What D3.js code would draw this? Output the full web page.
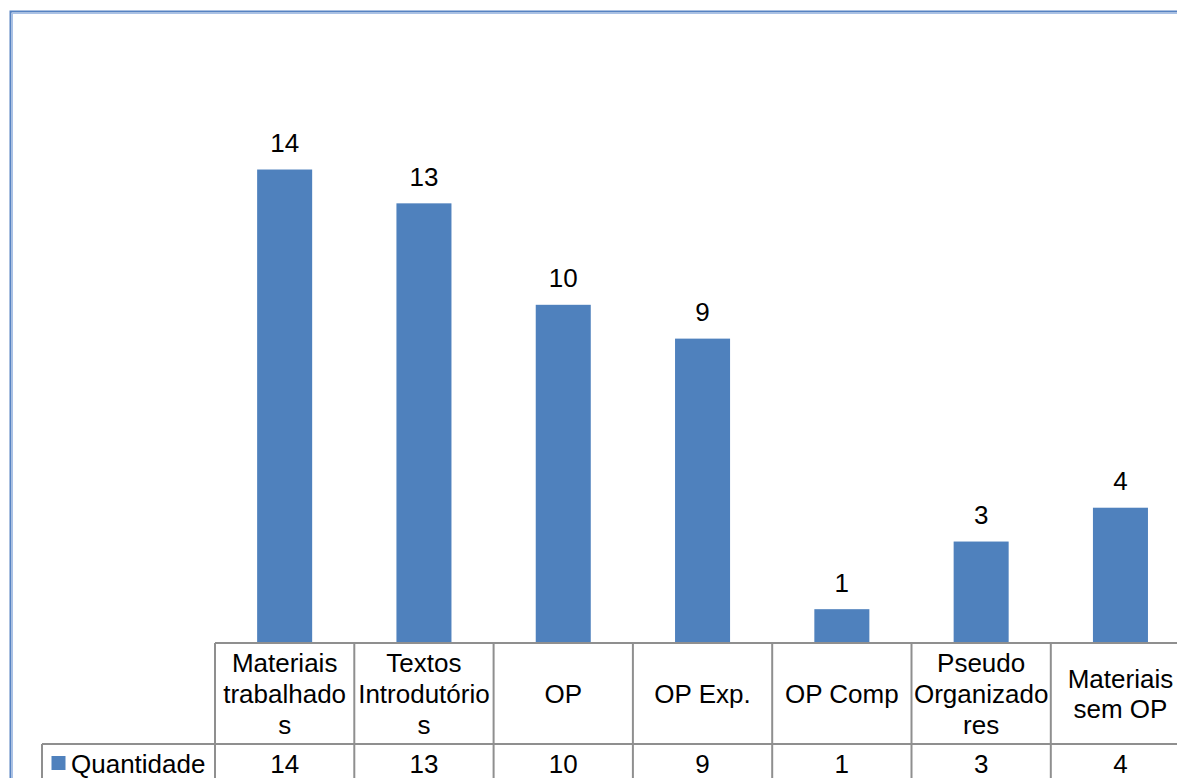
<!DOCTYPE html>
<html>
<head>
<meta charset="utf-8">
<script src="https://cdn.jsdelivr.net/npm/d3@7"></script>
<style>
  html, body { margin: 0; padding: 0; background: #fff; overflow: hidden; }
  svg { display: block; font-family: "Liberation Sans", Arial, sans-serif; }
</style>
</head>
<body>
<svg id="chart" width="1177" height="778"></svg>
<script>
// ---- data ----
const categories = ["Materiais trabalhados", "Textos Introdutórios", "OP", "OP Exp.", "OP Comp", "Pseudo Organizadores", "Materiais sem OP"];
const categoryLines = [
  ["Materiais", "trabalhado", "s"],
  ["Textos", "Introdutório", "s"],
  ["OP"],
  ["OP Exp."],
  ["OP Comp"],
  ["Pseudo", "Organizado", "res"],
  ["Materiais", "sem OP"]
];
const seriesName = "Quantidade";
const values = [14, 13, 10, 9, 1, 3, 4];
const yDomain = [0, 16];

// ---- layout ----
const svg = d3.select("#chart");
const barColor = "#4f81bd";
const gridColor = "#8f8f8f";
const tableLeft = 215, colStep = 139.3;
const baseY = 643, row2Y = 744, row2Bottom = 782, legendLeft = 42;
const fontSize = 26;

const x = d3.scaleBand().domain(categories)
  .range([tableLeft, tableLeft + colStep * categories.length]).padding(0);
const y = d3.scaleLinear().domain(yDomain).range([baseY, baseY - 16 * 33.82]);
const barW = x.bandwidth() * 0.395;

// outer frame
svg.append("rect").attr("x", 10.5).attr("y", 11.5).attr("width", 1300).attr("height", 900)
  .attr("fill", "none").attr("stroke", "#5682c2").attr("stroke-width", 2);
svg.append("rect").attr("x", 12.5).attr("y", 13.5).attr("width", 1300).attr("height", 900)
  .attr("fill", "none").attr("stroke", "#a9c1e6").attr("stroke-width", 1);

// bars
svg.append("g").selectAll("rect").data(values).join("rect")
  .attr("x", (d, i) => x(categories[i]) + (x.bandwidth() - barW) / 2)
  .attr("y", d => y(d))
  .attr("width", barW)
  .attr("height", d => y(0) - y(d))
  .attr("fill", barColor);

// value labels
svg.append("g").selectAll("text").data(values).join("text")
  .attr("x", (d, i) => x(categories[i]) + x.bandwidth() / 2)
  .attr("y", d => y(d) - 17.6)
  .attr("text-anchor", "middle")
  .attr("font-size", fontSize)
  .attr("fill", "#000")
  .text(d => d);

// data table lines
const tbl = svg.append("g").attr("stroke", gridColor).attr("stroke-width", 2).attr("fill", "none");
const tableRight = x.range()[1];
tbl.append("line").attr("x1", tableLeft).attr("x2", tableRight).attr("y1", baseY).attr("y2", baseY);
tbl.append("line").attr("x1", legendLeft).attr("x2", tableRight).attr("y1", row2Y).attr("y2", row2Y);
tbl.append("line").attr("x1", legendLeft).attr("x2", legendLeft).attr("y1", row2Y).attr("y2", row2Bottom);
const edges = categories.map(c => x(c)).concat([tableRight]);
tbl.selectAll("line.v").data(edges).join("line").attr("class", "v")
  .attr("x1", d => d).attr("x2", d => d).attr("y1", baseY).attr("y2", row2Bottom);

// category labels (wrapped)
const lineH = 30.6;
const rowMid = (baseY + row2Y) / 2;
const catG = svg.append("g");
categories.forEach((c, i) => {
  const lines = categoryLines[i];
  const cx = x(c) + x.bandwidth() / 2;
  const firstBaseline = rowMid + 9.5 - (lines.length - 1) * lineH / 2;
  const t = catG.append("text").attr("text-anchor", "middle").attr("font-size", fontSize).attr("fill", "#000");
  lines.forEach((ln, j) => {
    t.append("tspan").attr("x", cx).attr("y", firstBaseline + j * lineH).text(ln);
  });
});

// legend cell
svg.append("rect").attr("x", 51.5).attr("y", 756).attr("width", 14).attr("height", 14).attr("fill", barColor);
svg.append("text").attr("x", 71).attr("y", 772.5).attr("font-size", fontSize).attr("fill", "#000").text(seriesName);

// values row
svg.append("g").selectAll("text").data(values).join("text")
  .attr("x", (d, i) => x(categories[i]) + x.bandwidth() / 2)
  .attr("y", 772.5)
  .attr("text-anchor", "middle")
  .attr("font-size", fontSize)
  .attr("fill", "#000")
  .text(d => d);
</script>
</body>
</html>
